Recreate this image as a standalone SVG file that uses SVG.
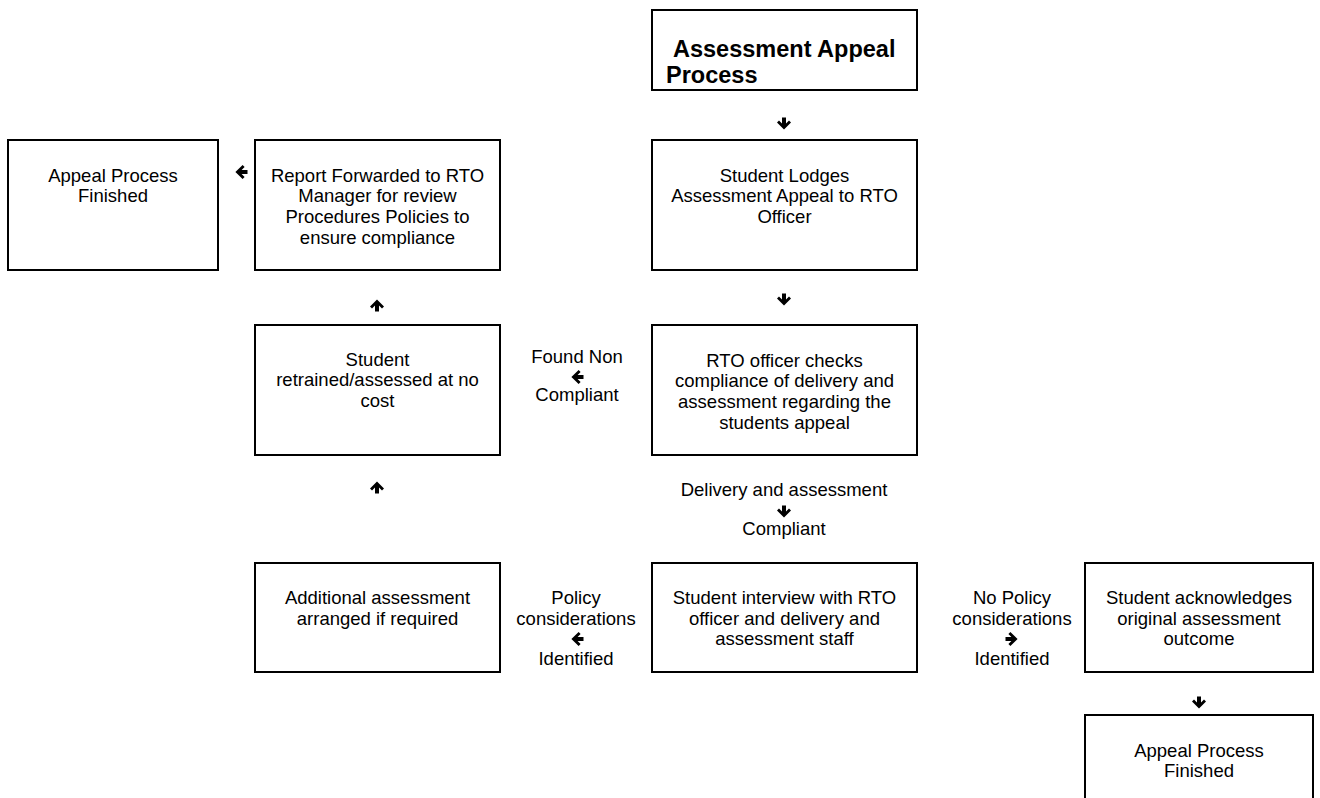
<svg xmlns="http://www.w3.org/2000/svg" width="1320" height="798" viewBox="0 0 1320 798">
<style>
  .box { fill: #ffffff; stroke: #000000; stroke-width: 2; }
  .t { font-family: "Liberation Sans", Arial, sans-serif; font-size: 18.5px; fill: #000000; text-anchor: middle; }
  .title { font-family: "Liberation Sans", Arial, sans-serif; font-size: 23.5px; font-weight: bold; fill: #000000; }
  .arr { fill: #000000; }
</style>
<defs>
  <path id="ad" d="M-2,-6.5 H2 V-0.6 L5,-3.6 L7,-1.6 L0,5.6 L-7,-1.6 L-5,-3.6 L-2,-0.6 Z"/>
</defs>
<rect width="1320" height="798" fill="#ffffff"/>

<g id="title">
  <rect class="box" x="652" y="10" width="265" height="80"/>
  <text class="title" x="673" y="57">Assessment Appeal</text>
  <text class="title" x="666" y="83">Process</text>
</g>

<g id="lodge">
  <rect class="box" x="652" y="140" width="265" height="130"/>
  <text class="t" x="784.5" y="181.5">Student Lodges</text>
  <text class="t" x="784.5" y="202.2">Assessment Appeal to RTO</text>
  <text class="t" x="784.5" y="222.9">Officer</text>
</g>

<g id="report">
  <rect class="box" x="255" y="140" width="245" height="130"/>
  <text class="t" x="377.5" y="181.5">Report Forwarded to RTO</text>
  <text class="t" x="377.5" y="202.2">Manager for review</text>
  <text class="t" x="377.5" y="222.9">Procedures Policies to</text>
  <text class="t" x="377.5" y="243.6">ensure compliance</text>
</g>

<g id="finished1">
  <rect class="box" x="8" y="140" width="210" height="130"/>
  <text class="t" x="113" y="181.5">Appeal Process</text>
  <text class="t" x="113" y="202.2">Finished</text>
</g>

<g id="checks">
  <rect class="box" x="652" y="325" width="265" height="130"/>
  <text class="t" x="784.5" y="366.5">RTO officer checks</text>
  <text class="t" x="784.5" y="387.2">compliance of delivery and</text>
  <text class="t" x="784.5" y="407.9">assessment regarding the</text>
  <text class="t" x="784.5" y="428.6">students appeal</text>
</g>

<g id="retrained">
  <rect class="box" x="255" y="325" width="245" height="130"/>
  <text class="t" x="377.5" y="365.5">Student</text>
  <text class="t" x="377.5" y="386.2">retrained/assessed at no</text>
  <text class="t" x="377.5" y="406.9">cost</text>
</g>

<g id="additional">
  <rect class="box" x="255" y="563" width="245" height="109"/>
  <text class="t" x="377.5" y="604">Additional assessment</text>
  <text class="t" x="377.5" y="624.7">arranged if required</text>
</g>

<g id="interview">
  <rect class="box" x="652" y="563" width="265" height="109"/>
  <text class="t" x="784.5" y="604">Student interview with RTO</text>
  <text class="t" x="784.5" y="624.7">officer and delivery and</text>
  <text class="t" x="784.5" y="645.4">assessment staff</text>
</g>

<g id="acknowledges">
  <rect class="box" x="1085" y="563" width="228" height="109"/>
  <text class="t" x="1199" y="604">Student acknowledges</text>
  <text class="t" x="1199" y="624.7">original assessment</text>
  <text class="t" x="1199" y="645.4">outcome</text>
</g>

<g id="finished2">
  <rect class="box" x="1085" y="715" width="228" height="100"/>
  <text class="t" x="1199" y="756.5">Appeal Process</text>
  <text class="t" x="1199" y="777.2">Finished</text>
</g>

<g id="connectors">
  <use class="arr" href="#ad" transform="translate(784,124)"/>
  <use class="arr" href="#ad" transform="translate(784,300)"/>
  <use class="arr" href="#ad" transform="translate(241,172) rotate(90)"/>
  <use class="arr" href="#ad" transform="translate(377,305) rotate(180)"/>
  <use class="arr" href="#ad" transform="translate(377,487) rotate(180)"/>
  <use class="arr" href="#ad" transform="translate(577,377) rotate(90)"/>
  <use class="arr" href="#ad" transform="translate(784,512)"/>
  <use class="arr" href="#ad" transform="translate(577,639) rotate(90)"/>
  <use class="arr" href="#ad" transform="translate(1012,639) rotate(-90)"/>
  <use class="arr" href="#ad" transform="translate(1199,703)"/>
  <text class="t" x="577" y="363">Found Non</text>
  <text class="t" x="577" y="401">Compliant</text>
  <text class="t" x="784" y="496">Delivery and assessment</text>
  <text class="t" x="784" y="535">Compliant</text>
  <text class="t" x="576" y="604">Policy</text>
  <text class="t" x="576" y="624.7">considerations</text>
  <text class="t" x="576" y="665">Identified</text>
  <text class="t" x="1012" y="604">No Policy</text>
  <text class="t" x="1012" y="624.7">considerations</text>
  <text class="t" x="1012" y="665">Identified</text>
</g>
</svg>
